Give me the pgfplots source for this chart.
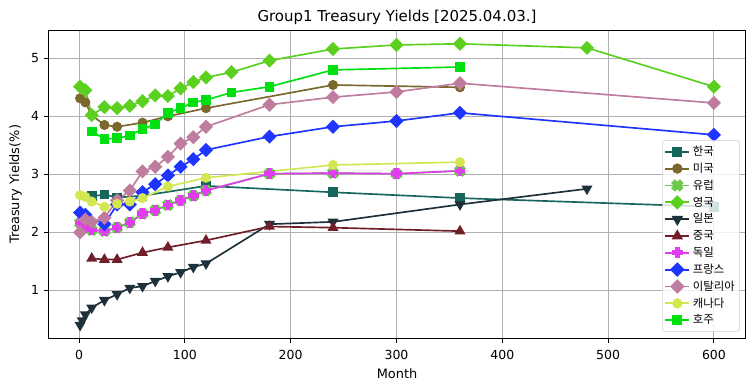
\documentclass[border=0pt]{standalone}
\usepackage{fontspec}
\setmainfont{DejaVu Sans}
\newfontfamily\kr{Noto Sans CJK KR}
\usepackage{pgfplots}
\pgfplotsset{compat=1.18}
\definecolor{ckr}{RGB}{23,102,94}
\definecolor{cus}{RGB}{122,104,44}
\definecolor{ceu}{RGB}{108,200,76}
\definecolor{cuk}{RGB}{92,208,30}
\definecolor{cjp}{RGB}{30,48,58}
\definecolor{ccn}{RGB}{112,30,40}
\definecolor{cde}{RGB}{226,60,240}
\definecolor{cfr}{RGB}{30,52,255}
\definecolor{cit}{RGB}{192,124,158}
\definecolor{cca}{RGB}{212,230,80}
\definecolor{cau}{RGB}{0,224,16}
\pgfdeclareplotmark{Pf}{%
  \pgfpathmoveto{\pgfqpoint{-0.333\pgfplotmarksize}{\pgfplotmarksize}}%
  \pgfpathlineto{\pgfqpoint{0.333\pgfplotmarksize}{\pgfplotmarksize}}%
  \pgfpathlineto{\pgfqpoint{0.333\pgfplotmarksize}{0.333\pgfplotmarksize}}%
  \pgfpathlineto{\pgfqpoint{\pgfplotmarksize}{0.333\pgfplotmarksize}}%
  \pgfpathlineto{\pgfqpoint{\pgfplotmarksize}{-0.333\pgfplotmarksize}}%
  \pgfpathlineto{\pgfqpoint{0.333\pgfplotmarksize}{-0.333\pgfplotmarksize}}%
  \pgfpathlineto{\pgfqpoint{0.333\pgfplotmarksize}{-\pgfplotmarksize}}%
  \pgfpathlineto{\pgfqpoint{-0.333\pgfplotmarksize}{-\pgfplotmarksize}}%
  \pgfpathlineto{\pgfqpoint{-0.333\pgfplotmarksize}{-0.333\pgfplotmarksize}}%
  \pgfpathlineto{\pgfqpoint{-\pgfplotmarksize}{-0.333\pgfplotmarksize}}%
  \pgfpathlineto{\pgfqpoint{-\pgfplotmarksize}{0.333\pgfplotmarksize}}%
  \pgfpathlineto{\pgfqpoint{-0.333\pgfplotmarksize}{0.333\pgfplotmarksize}}%
  \pgfpathclose\pgfusepathqfillstroke}
\begin{document}
\begin{tikzpicture}
\useasboundingbox (-34.8pt,-37.9pt) rectangle (508.8pt,243.6pt);
\begin{axis}[
  at={(0,0)}, anchor=south west,
  scale only axis, width=502.1pt, height=221.8pt,
  xmin=-29, xmax=630, ymin=0.172, ymax=5.483,
  xtick={0,100,...,600}, ytick={1,2,3,4,5},
  grid=major, grid style={color=black!31, line width=0.72pt},
  axis line style={line width=0.72pt},
  tick align=outside, xtick pos=bottom, ytick pos=left,
  major tick length=3.2pt, tick style={line width=0.72pt, black},
  /pgf/number format/assume math mode=true,
  ticklabel style={font=\fontsize{9}{11}\selectfont},
  xticklabel style={yshift=-2pt},
  title={Group1 Treasury Yields [2025.04.03.]},
  title style={font=\fontsize{10.8}{13}\selectfont, at={(axis description cs:0.5,1)}, anchor=base, yshift=0.3pt, inner sep=0pt},
  xlabel={Month},
  xlabel style={font=\fontsize{9.3}{11}\selectfont, at={(axis description cs:0.5,0)}, anchor=base, yshift=-29pt, inner sep=0pt},
  ylabel={Treasury Yields(\%)},
  ylabel style={font=\fontsize{9.3}{11}\selectfont, at={(axis description cs:-0.047,0.5)}, anchor=center, inner sep=0pt},
  legend style={at={(axis description cs:0.9918,0.0214)}, anchor=south east,
    font=\kr\fontsize{8.2}{9.5}\selectfont, draw=black!18, draw opacity=1, rounded corners=2pt,
    fill=white, fill opacity=0.8, text opacity=1, row sep=-0.1pt, inner xsep=1.5pt, inner ysep=2pt},
  legend image post style={line width=1.4pt, opacity=1},
  legend cell align=left,
]
\addplot[color=ckr, line width=1.2pt, mark=square*, mark size=2.9pt] coordinates {
(12,2.62) (24,2.65) (36,2.60) (60,2.63) (120,2.80) (240,2.69) (360,2.59) (600,2.44)};
\addlegendentry{한국}
\addplot[color=cus, line width=1.2pt, mark=*, mark size=3.0pt] coordinates {
(1,4.31) (6,4.24) (12,4.02) (24,3.85) (36,3.82) (60,3.89) (84,4.00) (120,4.14) (240,4.54) (360,4.50)};
\addlegendentry{미국}
\addplot[color=ceu, line width=1.2pt, mark=Pf, mark size=3.7pt, mark options={rotate=45}] coordinates {
(1,2.16) (6,2.10) (12,2.04) (24,2.02) (36,2.08) (48,2.17) (60,2.32) (72,2.38) (84,2.47) (96,2.55) (108,2.63) (120,2.72) (180,3.01) (240,3.02) (300,3.01) (360,3.06)};
\addlegendentry{유럽}
\addplot[color=cuk, line width=1.2pt, mark=square*, mark size=3.0pt, mark options={rotate=45}] coordinates {
(1,4.51) (6,4.45) (12,4.02) (24,4.16) (36,4.14) (48,4.18) (60,4.26) (72,4.36) (84,4.35) (96,4.48) (108,4.59) (120,4.67) (144,4.76) (180,4.96) (240,5.16) (300,5.23) (360,5.25) (480,5.18) (600,4.51)};
\addlegendentry{영국}
\addplot[color=cjp, line width=1.2pt, mark=triangle*, mark size=3.4pt, mark options={rotate=180}] coordinates {
(1,0.40) (3,0.48) (6,0.58) (12,0.70) (24,0.83) (36,0.93) (48,1.04) (60,1.07) (72,1.16) (84,1.24) (96,1.31) (108,1.40) (120,1.46) (180,2.14) (240,2.18) (360,2.48) (480,2.75)};
\addlegendentry{일본}
\addplot[color=ccn, line width=1.2pt, mark=triangle*, mark size=3.4pt] coordinates {
(12,1.55) (24,1.53) (36,1.53) (60,1.65) (84,1.74) (120,1.86) (180,2.10) (240,2.08) (360,2.02)};
\addlegendentry{중국}
\addplot[color=cde, line width=1.2pt, mark=Pf, mark size=3.2pt] coordinates {
(1,2.16) (6,2.10) (12,2.04) (24,2.02) (36,2.08) (48,2.17) (60,2.32) (72,2.38) (84,2.47) (96,2.55) (108,2.63) (120,2.72) (180,3.01) (240,3.02) (300,3.01) (360,3.06)};
\addlegendentry{독일}
\addplot[color=cfr, line width=1.2pt, mark=square*, mark size=3.0pt, mark options={rotate=45}] coordinates {
(1,2.34) (6,2.30) (24,2.14) (36,2.48) (48,2.48) (60,2.69) (72,2.83) (84,2.98) (96,3.13) (108,3.26) (120,3.42) (180,3.65) (240,3.82) (300,3.92) (360,4.06) (600,3.68)};
\addlegendentry{프랑스}
\addplot[color=cit, line width=1.2pt, mark=square*, mark size=3.0pt, mark options={rotate=45}] coordinates {
(1,2.00) (6,2.22) (12,2.18) (24,2.25) (36,2.55) (48,2.72) (60,3.05) (72,3.13) (84,3.30) (96,3.53) (108,3.64) (120,3.82) (180,4.20) (240,4.33) (300,4.42) (360,4.57) (600,4.23)};
\addlegendentry{이탈리아}
\addplot[color=cca, line width=1.2pt, mark=*, mark size=3.0pt] coordinates {
(1,2.64) (6,2.61) (12,2.53) (24,2.44) (36,2.49) (48,2.53) (60,2.59) (84,2.79) (120,2.94) (240,3.16) (360,3.21)};
\addlegendentry{캐나다}
\addplot[color=cau, line width=1.2pt, mark=square*, mark size=2.9pt] coordinates {
(12,3.74) (24,3.61) (36,3.62) (48,3.67) (60,3.78) (72,3.86) (84,4.06) (96,4.14) (108,4.24) (120,4.28) (144,4.41) (180,4.51) (240,4.80) (360,4.85)};
\addlegendentry{호주}
\end{axis}
\end{tikzpicture}
\end{document}
